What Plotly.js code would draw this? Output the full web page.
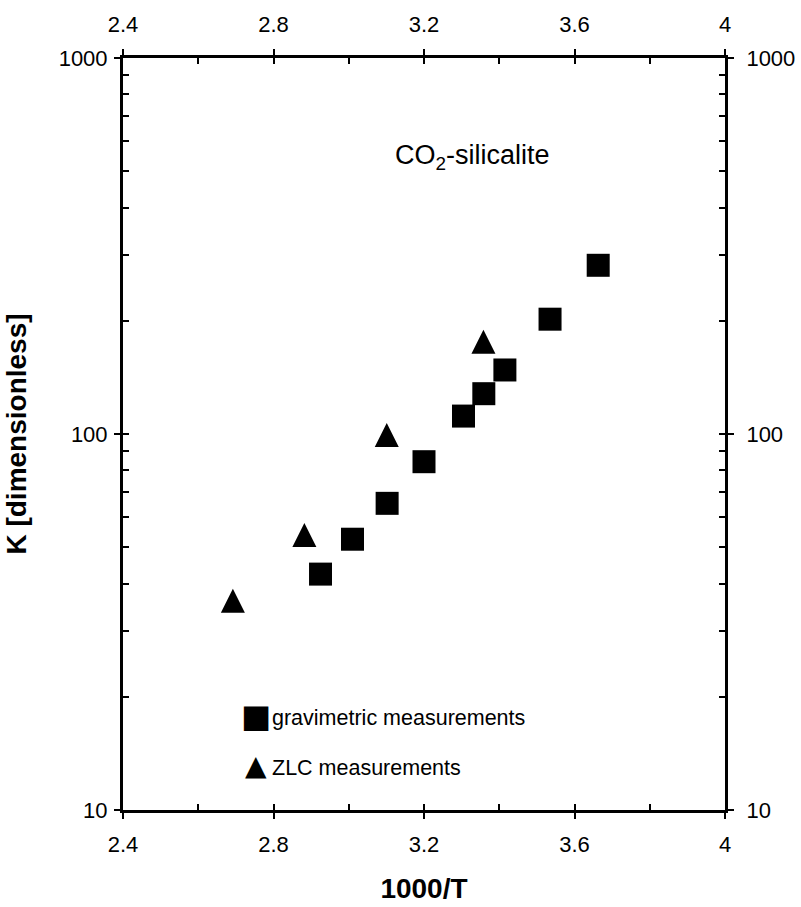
<!DOCTYPE html>
<html>
<head>
<meta charset="utf-8">
<script src="https://cdn.plot.ly/plotly-3.0.1.min.js"></script>
<style>
  html, body { margin: 0; padding: 0; background: #fff; }
  #chart { width: 801px; height: 907px; }
</style>
</head>
<body>
<div id="chart"></div>
<script>
// Henry constant of CO2 in silicalite versus inverse temperature
const gravX = [2.925, 3.010, 3.102, 3.200, 3.305, 3.359, 3.415, 3.535, 3.663];
const gravK = [42.4, 52.5, 65.4, 84.4, 111.6, 128, 148, 202, 281];
const zlcX = [2.692, 2.882, 3.101, 3.358];
const zlcK = [36.0, 53.9, 99.4, 176];

const xRange = [2.4, 4];
const yRange = [1, 3]; // log10 of 10 .. 1000
const xTickVals = [2.4, 2.8, 3.2, 3.6, 4];
const xTickLabels = ['2.4', '2.8', '3.2', '3.6', '4'];
const xMinorVals = [2.6, 3.0, 3.4, 3.8];
const yTickVals = [10, 100, 1000];
const yTickLabels = ['10', '100', '1000'];
const yMinorVals = [20, 30, 40, 50, 60, 70, 80, 90, 200, 300, 400, 500, 600, 700, 800, 900];

const gravName = 'gravimetric measurements';
const zlcName = 'ZLC measurements';

const FONT = 'Liberation Sans, Arial, Helvetica, sans-serif';
const tickFont = { family: FONT, size: 22, color: '#000' };
const titleFont = { family: FONT, size: 28, weight: 'bold', color: '#000' };

const traces = [
  {
    x: gravX, y: gravK, type: 'scatter', mode: 'markers', name: gravName,
    xaxis: 'x', yaxis: 'y',
    marker: { symbol: 'square', size: 23, color: '#000' }
  },
  {
    // arrow glyph turned upright and re-centred on the point
    x: zlcX, y: zlcK, type: 'scatter', mode: 'markers', name: zlcName,
    xaxis: 'x2', yaxis: 'y2',
    marker: { symbol: 'arrow-down', angle: 180, standoff: 12, size: 24, color: '#000' }
  }
];

const common = {
  showgrid: false, zeroline: false, showline: true, linewidth: 3, linecolor: '#000',
  tickwidth: 2, tickcolor: '#000', ticklen: 6, tickfont: tickFont,
  mirror: 'allticks', fixedrange: true
};
const minorStyle = { ticks: 'inside', ticklen: 6, tickwidth: 2, tickcolor: '#000' };

const layout = {
  width: 801, height: 907,
  margin: { l: 123, r: 76, t: 58, b: 97 },
  paper_bgcolor: '#fff', plot_bgcolor: '#fff',
  font: { family: FONT, color: '#000' },
  showlegend: false,
  // bottom and left: outer half of the major ticks, labels, titles
  xaxis: Object.assign({}, common, {
    range: xRange, side: 'bottom', ticks: 'outside',
    tickmode: 'array', tickvals: xTickVals, ticktext: xTickLabels,
    ticklabelstandoff: 7,
    title: { text: '1000/T', font: titleFont, standoff: 22 }
  }),
  yaxis: Object.assign({}, common, {
    type: 'log', range: yRange, side: 'left', ticks: 'outside',
    tickmode: 'array', tickvals: yTickVals, ticktext: yTickLabels,
    ticklabelstandoff: 2,
    title: { text: 'K [dimensionless]', font: titleFont, standoff: 24 }
  }),
  // top and right: inner half of the major ticks, minor ticks, labels
  xaxis2: Object.assign({}, common, {
    range: xRange, side: 'top', overlaying: 'x', ticks: 'inside',
    tickmode: 'array', tickvals: xTickVals, ticktext: xTickLabels,
    ticklabelstandoff: 14,
    minor: Object.assign({ tickmode: 'array', tickvals: xMinorVals }, minorStyle)
  }),
  yaxis2: Object.assign({}, common, {
    type: 'log', range: yRange, side: 'right', overlaying: 'y', ticks: 'inside',
    tickmode: 'array', tickvals: yTickVals, ticktext: yTickLabels,
    ticklabelstandoff: 14,
    minor: Object.assign({ tickmode: 'array', tickvals: yMinorVals }, minorStyle)
  }),
  annotations: [
    {
      x: 3.33, y: Math.log10(546), xref: 'x', yref: 'y',
      text: 'CO<sub>2</sub>-silicalite', showarrow: false,
      font: { family: FONT, size: 27, color: '#000' }
    },
    // key
    {
      x: 0.2209, y: 0.1223, xref: 'paper', yref: 'paper', xanchor: 'center', yanchor: 'middle',
      text: '\u25A0', showarrow: false, yshift: 2,
      font: { family: 'DejaVu Sans', size: 32, color: '#000' }
    },
    {
      x: 0.2442, y: 0.1223, xref: 'paper', yref: 'paper', xanchor: 'left', yanchor: 'middle',
      text: gravName, showarrow: false,
      font: { family: FONT, size: 21.5, color: '#000' }
    },
    {
      x: 0.2209, y: 0.0559, xref: 'paper', yref: 'paper', xanchor: 'center', yanchor: 'middle',
      text: '\u25B2', showarrow: false, yshift: 2,
      font: { family: 'DejaVu Sans', size: 28, color: '#000' }
    },
    {
      x: 0.2442, y: 0.0559, xref: 'paper', yref: 'paper', xanchor: 'left', yanchor: 'middle',
      text: zlcName, showarrow: false,
      font: { family: FONT, size: 21.5, color: '#000' }
    }
  ]
};

Plotly.newPlot('chart', traces, layout, { staticPlot: true, displayModeBar: false });
</script>
</body>
</html>
